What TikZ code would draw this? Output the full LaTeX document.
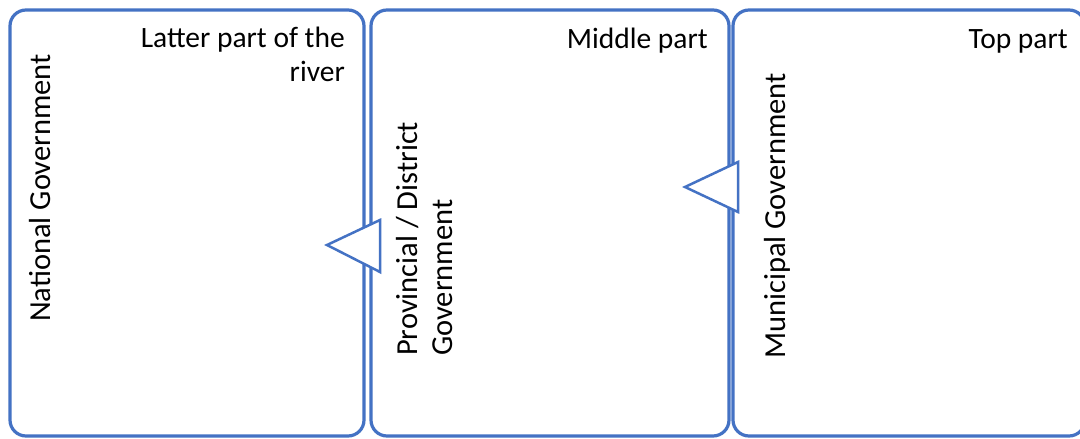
\documentclass[tikz,border=0pt]{standalone}
\usepackage{fontspec}
\setmainfont{Carlito}
\definecolor{panelblue}{HTML}{4472C4}
\tikzset{
  panel/.style={draw=panelblue, line width=3.2pt, rounded corners=16pt, fill=white,
    inner sep=0pt, minimum height=426pt},
  flowtip/.style={draw=panelblue, line width=2.5pt, fill=white, line join=miter},
  label/.style={inner sep=0pt, font=\fontsize{29.5pt}{35pt}\selectfont},
  vlabel/.style={inner sep=0pt, font=\fontsize{30.5pt}{35pt}\selectfont,
    rotate=90, anchor=base west}
}
\begin{document}
\begin{tikzpicture}[x=1pt, y=1pt]
  \useasboundingbox[fill=white] (0,0) rectangle (1080,-439);

  % the three river sections
  \node[panel, minimum width=352pt] (upper) at (909,-223) {};
  \node[panel, minimum width=358pt] (middle) at (550,-223) {};
  \node[panel, minimum width=354pt] (lower) at (187,-223) {};

  % flow direction markers
  \draw[flowtip] (380,-220) -- (327,-245) -- (380,-272) -- cycle;
  \draw[flowtip] (738,-162) -- (685,-187) -- (738,-212) -- cycle;

  % section titles
  \node[label, anchor=base east] (lowertitle) at (345,-47)
    {\begin{tabular}[t]{@{}r@{}}Latter part of the\\river\end{tabular}};
  \node[label, anchor=base east] (middletitle) at (708,-48) {Middle part};
  \node[label, anchor=base east] (uppertitle) at (1068,-48) {Top part};

  % responsible level of government
  \node[vlabel] (national) at (50,-322) {National Government};
  \node[vlabel] (provincial) at (417,-356)
    {\begin{tabular}[t]{@{}l@{}}Provincial / District\\Government\end{tabular}};
  \node[vlabel] (municipal) at (785,-359) {Municipal Government};
\end{tikzpicture}
\end{document}
